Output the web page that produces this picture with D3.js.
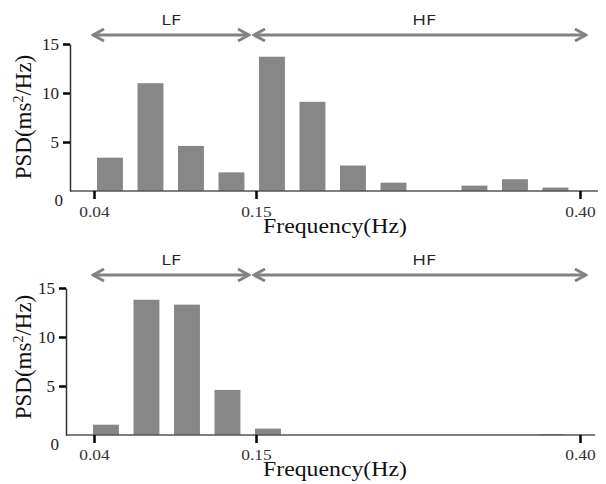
<!DOCTYPE html>
<html>
<head>
<meta charset="utf-8">
<script src="https://cdn.jsdelivr.net/npm/d3@7"></script>
<style>
  body { margin: 0; background: #fff; }
</style>
</head>
<body>
<div id="chart"></div>
<script>
// PSD per frequency bin (12 bins from 0.04 to 0.40 Hz)
const psdTop = [3.4, 11.0, 4.6, 1.9, 13.7, 9.1, 2.6, 0.85, 0, 0.55, 1.2, 0.35];
const psdBottom = [1.05, 13.8, 13.3, 4.6, 0.65, 0, 0, 0, 0, 0, 0, 0.1];
const freqTickLabels = ['0.04', '0.15', '0.40'];
const freqTickBins = [0, 4, 12];
const psdTicks = [0, 5, 10, 15];
const bandNames = ['LF', 'HF'];
const bandEdges = [0, 4, 12];

const width = 606;
const height = 484;
const serif = '"Liberation Serif", "Times New Roman", serif';

const svg = d3.select('#chart')
    .append('svg')
        .attr('width', width)
        .attr('height', height);

svg.append('defs').append('marker')
    .attr('id', 'chev')
    .attr('markerUnits', 'userSpaceOnUse')
    .attr('viewBox', '0 -8 14 16')
    .attr('refX', 12)
    .attr('refY', 0)
    .attr('markerWidth', 14)
    .attr('markerHeight', 16)
    .attr('orient', 'auto-start-reverse')
    .append('path')
        .attr('d', 'M1,-6L12,0L1,6')
        .attr('fill', 'none')
        .attr('stroke', '#838383')
        .attr('stroke-width', 3);

function panel(values, cfg) {
    const g = svg.append('g');

    const x = d3.scaleLinear()
        .domain([0, values.length])
        .range([94, 580]);

    const y = d3.scaleLinear()
        .domain([0, 15])
        .range([cfg.y0, cfg.y0 - 147]);

    const step = x(1) - x(0);

    // bars
    g.append('g')
        .attr('fill', '#878787')
        .selectAll('rect')
        .data(values)
        .join('rect')
            .attr('x', (d, i) => x(i) + cfg.shift)
            .attr('y', d => y(d))
            .attr('width', step * 0.64)
            .attr('height', d => y(0) - y(d));

    // x axis line
    g.append('line')
        .attr('x1', cfg.left)
        .attr('x2', cfg.right)
        .attr('y1', y(0))
        .attr('y2', y(0))
        .attr('stroke', '#555')
        .attr('stroke-width', 1.5);

    const xAxis = g.append('g')
        .attr('transform', `translate(0, ${y(0)})`)
        .call(d3.axisBottom(x)
            .tickValues(freqTickBins)
            .tickFormat((d, i) => freqTickLabels[i])
            .tickSize(8)
            .tickPadding(7));
    xAxis.select('.domain').remove();
    xAxis.selectAll('.tick line')
        .attr('stroke', '#000')
        .attr('stroke-width', 2.5);
    xAxis.selectAll('.tick text')
        .style('font-family', serif)
        .style('font-size', '14.5px')
        .attr('fill', '#333')
        .attr('y', cfg.tickDy)
        .attr('dy', 0)
        .attr('transform', 'scale(1.2,1)');

    // y axis
    const yAxis = g.append('g')
        .attr('transform', `translate(${cfg.left}, 0)`)
        .call(d3.axisLeft(y)
            .tickValues(psdTicks)
            .tickSize(7)
            .tickSizeOuter(0)
            .tickPadding(4));
    yAxis.select('.domain')
        .attr('stroke', '#333')
        .attr('stroke-width', 1.5);
    yAxis.selectAll('.tick line')
        .attr('stroke', d => d === 0 ? 'none' : '#000')
        .attr('stroke-width', 2.5);
    yAxis.selectAll('.tick text')
        .style('font-family', serif)
        .style('font-size', '17px')
        .attr('fill', '#222')
        .attr('x', d => d === 0 ? -7 : -11)
        .attr('dy', d => d === 0 ? '0.85em' : '0.32em');

    // axis titles
    g.append('text')
        .attr('transform', `translate(263, ${y(0) + cfg.titleDy}) scale(1.16,1)`)
        .style('font-family', serif)
        .style('font-size', '20.5px')
        .attr('fill', '#111')
        .text('Frequency(Hz)');

    const yl = g.append('text')
        .attr('transform', `translate(31, ${cfg.labelY}) rotate(-90)`)
        .attr('text-anchor', 'middle')
        .style('font-family', serif)
        .style('font-size', '23px')
        .attr('fill', '#111');
    yl.append('tspan').text('PSD(ms');
    yl.append('tspan').style('font-size', '14px').attr('dy', -8).text('2');
    yl.append('tspan').attr('dy', 8).text('/Hz)');

    // LF / HF range arrows
    const tips = [
        [x(bandEdges[0]) - 2, x(bandEdges[1]) - 6],
        [x(bandEdges[1]) - 3, x(bandEdges[2]) + 7]
    ];
    bandNames.forEach((name, i) => {
        g.append('line')
            .attr('x1', tips[i][0] + 1)
            .attr('x2', tips[i][1] - 1)
            .attr('y1', cfg.arrowY)
            .attr('y2', cfg.arrowY)
            .attr('stroke', '#838383')
            .attr('stroke-width', 3)
            .attr('marker-start', 'url(#chev)')
            .attr('marker-end', 'url(#chev)');
        const cx = (tips[i][0] + tips[i][1]) / 2 + (i ? 4 : 0);
        g.append('text')
            .attr('transform', `translate(${cx}, ${cfg.arrowY - 10}) scale(1.25,1)`)
            .attr('text-anchor', 'middle')
            .style('font-family', '"Open Sans", "Noto Sans", sans-serif')
            .style('font-size', '15px')
            .attr('fill', '#222')
            .text(name);
    });
}

panel(psdTop, {y0: 191, left: 70, right: 598, shift: 3, arrowY: 35, labelY: 117, titleDy: 42, tickDy: 26});
panel(psdBottom, {y0: 435, left: 66, right: 595, shift: -1, arrowY: 275, labelY: 357, titleDy: 41, tickDy: 25});
</script>
</body>
</html>
